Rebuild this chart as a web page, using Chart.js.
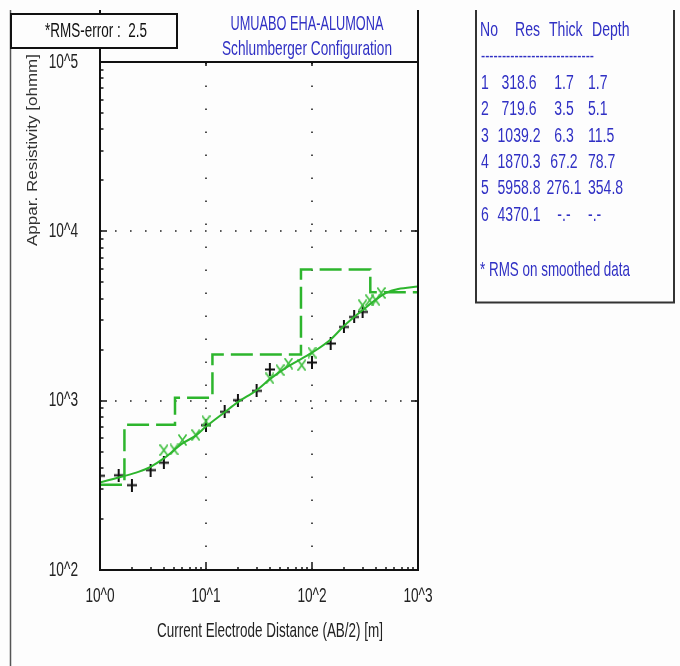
<!DOCTYPE html>
<html>
<head>
<meta charset="utf-8">
<title>UMUABO EHA-ALUMONA</title>
<script src="https://cdn.jsdelivr.net/npm/chart.js@4.4.1/dist/chart.umd.min.js"></script>
<style>
    html, body { margin: 0; padding: 0; background: #fdfdfd; }
    canvas { display: block; }
</style>
</head>
<body>
<canvas id="vesChart" width="680" height="666"></canvas>
<script>
// field data (black +)
var fieldAB = [1, 1.5, 2, 3, 4, 10, 15, 20, 30, 40, 100, 150, 200, 250, 300];
var fieldRho = [360, 363, 317, 389, 430, 717, 859, 1007, 1143, 1528, 1680, 2175, 2725, 3121, 3342];

// smoothed data (green x)
var smoothAB = [4, 5, 6, 8, 10, 40, 50, 60, 80, 100, 300, 350, 400, 450];
var smoothRho = [510, 515, 585, 626, 757, 1352, 1514, 1657, 1620, 1925, 3660, 3917, 3917, 4325];

// calculated curve
var curveAB = [1, 1.7, 2.3, 3, 4, 6, 8, 10, 15, 20, 30, 40, 60, 100, 150, 200, 250, 300, 400, 500, 650, 1000];
var curveRho = [329, 359, 380, 407, 456, 559, 622, 703, 855, 980, 1153, 1340, 1600, 1920, 2300, 2760, 3120, 3420, 3950, 4330, 4560, 4720];

// layer model
var layerNo = [1, 2, 3, 4, 5, 6];
var layerRes = [318.6, 719.6, 1039.2, 1870.3, 5958.8, 4370.1];
var layerThick = [1.7, 3.5, 6.3, 67.2, 276.1];
var layerDepth = [1.7, 5.1, 11.5, 78.7, 354.8];

var xTicks = [1, 10, 100, 1000];
var yTicks = [100, 1000, 10000, 100000];
var xTickLabels = ['10^0', '10^1', '10^2', '10^3'];
var yTickLabels = ['10^2', '10^3', '10^4', '10^5'];

var GREEN = '#2db52d';
var BLUE = '#3030c4';

function pts(xs, ys) {
    return xs.map(function (x, i) { return {x: x, y: ys[i]}; });
}

// step line of the layer model
var stepPts = [{x: xTicks[0], y: layerRes[0]}];
layerDepth.forEach(function (d, i) {
    stepPts.push({x: d, y: layerRes[i + 1]});
});
stepPts.push({x: xTicks[xTicks.length - 1], y: layerRes[layerRes.length - 1]});

// marker images (the original is a bit narrow)
function plusMark() {
    var cv = document.createElement('canvas');
    cv.width = 10; cv.height = 13;
    var c = cv.getContext('2d');
    c.strokeStyle = '#111'; c.lineWidth = 2;
    c.beginPath();
    c.moveTo(0, 6.5); c.lineTo(10, 6.5);
    c.moveTo(5, 0); c.lineTo(5, 13);
    c.stroke();
    return cv;
}
function xMark() {
    var cv = document.createElement('canvas');
    cv.width = 9; cv.height = 12;
    var c = cv.getContext('2d');
    c.strokeStyle = '#3fbf3f'; c.lineWidth = 1.6;
    c.beginPath();
    c.moveTo(0.5, 0.5); c.lineTo(8.5, 11.5);
    c.moveTo(8.5, 0.5); c.lineTo(0.5, 11.5);
    c.stroke();
    return cv;
}

// squeezed Arial-like text, the source image is narrow and tall
function txt(c, s, x, y, o) {
    c.save();
    c.font = (o.size || 18) + 'px "Liberation Sans", Arial, sans-serif';
    c.fillStyle = o.color || '#222';
    c.textBaseline = 'middle';
    c.textAlign = o.align || 'left';
    c.translate(x, y);
    if (o.rot) c.rotate(o.rot);
    var sx = o.sx || 0.78, sy = o.sy || 1.12;
    if (o.width) sx = o.width / c.measureText(s).width;
    c.scale(sx, sy);
    c.fillText(s, 0, 0);
    c.restore();
}

function line(c, x1, y1, x2, y2) {
    c.beginPath(); c.moveTo(x1, y1); c.lineTo(x2, y2); c.stroke();
}

var decor = {
    id: 'decor',
    beforeDraw: function (chart) {
        var c = chart.ctx;
        c.save();
        c.fillStyle = '#fdfdfd';
        c.fillRect(0, 0, chart.width, chart.height);
        c.restore();
    },
    beforeDatasetsDraw: function (chart) {
        var c = chart.ctx, a = chart.chartArea;
        var xs = chart.scales.x, ys = chart.scales.y;
        c.save();
        c.strokeStyle = '#222';
        c.lineWidth = 1.6;
        c.setLineDash([1.6, 21.4]);
        xTicks.slice(1, -1).forEach(function (v) {
            var px = Math.round(xs.getPixelForValue(v));
            line(c, px, a.bottom, px, a.top);
        });
        c.setLineDash([1.6, 13.4]);
        yTicks.slice(1, -1).forEach(function (v) {
            var py = Math.round(ys.getPixelForValue(v));
            line(c, a.left, py, a.right, py);
        });
        c.restore();
    },
    afterDraw: function (chart) {
        var c = chart.ctx, a = chart.chartArea;
        var xs = chart.scales.x, ys = chart.scales.y;
        c.save();

        // frame
        c.strokeStyle = '#555'; c.lineWidth = 1.5;
        line(c, 10.5, 10, 10.5, 666);
        c.strokeStyle = '#111'; c.lineWidth = 2;
        line(c, a.left, 10, a.left, a.bottom + 1);
        line(c, a.right, 10, a.right, a.bottom + 1);
        line(c, a.left, a.top, a.right, a.top);
        line(c, a.left - 1, a.bottom, a.right + 1, a.bottom);

        // log ticks, pointing inwards
        c.lineWidth = 1.5;
        for (var e = 2; e < 5; e++) {
            for (var m = 1; m < 10; m++) {
                var v = m * Math.pow(10, e);
                if (v <= yTicks[0]) continue;
                var py = Math.round(ys.getPixelForValue(v));
                line(c, a.left, py, a.left + (m === 1 ? 7 : 3.5), py);
                if (m === 1) line(c, a.right, py, a.right - 7, py);
            }
        }
        for (e = 0; e < 3; e++) {
            for (m = 1; m < 10; m++) {
                v = m * Math.pow(10, e);
                if (v <= xTicks[0]) continue;
                var px = Math.round(xs.getPixelForValue(v));
                line(c, px, a.bottom, px, a.bottom - (m === 1 ? 8 : 3));
                if (m === 1) line(c, px, a.top, px, a.top + 4);
            }
        }

        // tick labels from the scales
        xs.ticks.forEach(function (t) {
            txt(c, t.label, xs.getPixelForValue(t.value), a.bottom + 26, {align: 'center', sx: 0.76, color: '#222'});
        });
        ys.ticks.forEach(function (t) {
            txt(c, t.label, a.left - 22, ys.getPixelForValue(t.value), {align: 'right', sx: 0.76, color: '#222'});
        });

        // rms box
        c.fillStyle = '#fdfdfd';
        c.fillRect(11, 14, 166, 34);
        c.strokeStyle = '#111'; c.lineWidth = 2;
        c.strokeRect(11, 14, 166, 34);
        txt(c, '*RMS-error :  2.5', 96, 31.5, {align: 'center', width: 102, color: '#111'});

        // titles
        txt(c, 'UMUABO EHA-ALUMONA', 307, 24, {align: 'center', width: 153, color: BLUE});
        txt(c, 'Schlumberger Configuration', 307, 49, {align: 'center', width: 170, color: BLUE});

        // axis titles
        txt(c, 'Current Electrode Distance (AB/2) [m]', 270, 631, {align: 'center', width: 226, color: '#222'});
        txt(c, 'Appar. Resistivity [ohmm]', 33, 150, {align: 'center', size: 17, rot: -Math.PI / 2, width: 192, sy: 0.9, color: '#333'});

        // layer table
        c.strokeStyle = '#333'; c.lineWidth = 2;
        line(c, 476, 10, 476, 303);
        line(c, 674, 10, 674, 303);
        line(c, 475, 302.5, 675, 302.5);
        txt(c, 'No', 480, 30, {color: BLUE});
        txt(c, 'Res', 515, 30, {color: BLUE});
        txt(c, 'Thick', 549, 30, {color: BLUE});
        txt(c, 'Depth', 592, 30, {color: BLUE});
        txt(c, '-'.repeat(27), 481, 57, {color: BLUE, width: 113, sy: 1});
        layerNo.forEach(function (n, i) {
            var y = 83.5 + i * 26.3;
            txt(c, String(n), 485, y, {align: 'center', color: BLUE});
            txt(c, layerRes[i].toFixed(1), 519, y, {align: 'center', color: BLUE});
            var th = i < layerThick.length ? layerThick[i].toFixed(1) : '-.-';
            var dp = i < layerDepth.length ? layerDepth[i].toFixed(1) : '-.-';
            txt(c, th, 564, y, {align: 'center', color: BLUE});
            txt(c, dp, 588, y, {color: BLUE});
        });
        txt(c, '* RMS on smoothed data', 480, 270, {color: BLUE, width: 150});

        c.restore();
    }
};

var vesChart = new Chart(document.getElementById('vesChart'), {
    type: 'scatter',
    data: {
        datasets: [{
            label: 'Model',
            data: stepPts,
            showLine: true,
            stepped: true,
            borderColor: GREEN,
            borderWidth: 2.5,
            borderDash: [22, 7],
            pointRadius: 0,
            clip: 0
        }, {
            label: 'Curve',
            data: pts(curveAB, curveRho),
            showLine: true,
            cubicInterpolationMode: 'monotone',
            borderColor: GREEN,
            borderWidth: 2,
            pointRadius: 0,
            clip: 0
        }, {
            label: 'Smoothed',
            data: pts(smoothAB, smoothRho),
            pointStyle: xMark(),
            pointRadius: 6,
            clip: 0
        }, {
            label: 'Field',
            data: pts(fieldAB, fieldRho),
            pointStyle: plusMark(),
            pointRadius: 6,
            clip: 0
        }]
    },
    options: {
        responsive: false,
        animation: false,
        devicePixelRatio: 1,
        layout: {padding: {left: 10, top: 62, right: 262, bottom: 0}},
        plugins: {
            legend: {display: false},
            tooltip: {enabled: false}
        },
        scales: {
            x: {
                type: 'logarithmic',
                min: xTicks[0],
                max: xTicks[xTicks.length - 1],
                afterFit: function (s) { s.height = 96; },
                afterBuildTicks: function (s) {
                    s.ticks = xTicks.map(function (v) { return {value: v}; });
                },
                grid: {display: false, drawTicks: false},
                border: {display: false},
                ticks: {
                    autoSkip: false,
                    maxRotation: 0,
                    color: 'rgba(0,0,0,0)',
                    callback: function (v, i) { return xTickLabels[i]; }
                }
            },
            y: {
                type: 'logarithmic',
                min: yTicks[0],
                max: yTicks[yTicks.length - 1],
                afterFit: function (s) { s.width = 90; },
                afterBuildTicks: function (s) {
                    s.ticks = yTicks.map(function (v) { return {value: v}; });
                },
                grid: {display: false, drawTicks: false},
                border: {display: false},
                ticks: {
                    autoSkip: false,
                    color: 'rgba(0,0,0,0)',
                    callback: function (v, i) { return yTickLabels[i]; }
                }
            }
        }
    },
    plugins: [decor]
});
</script>
</body>
</html>
